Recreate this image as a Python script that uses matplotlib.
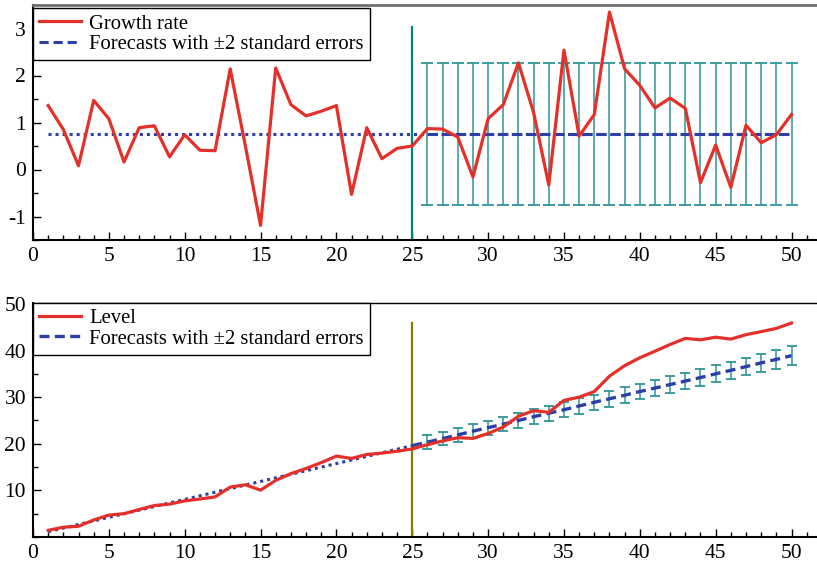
import matplotlib
matplotlib.use("Agg")
import matplotlib.pyplot as plt
from matplotlib.ticker import MultipleLocator

plt.rcParams['font.family'] = ['Liberation Serif', 'DejaVu Serif']
plt.rcParams['font.size'] = 15

# ---------------- data ----------------
t = list(range(1, 51))
growth = [1.36, 0.85, 0.08, 1.47, 1.08, 0.16, 0.89, 0.93, 0.27, 0.74,
          0.41, 0.40, 2.14, 0.50, -1.19, 2.16, 1.38, 1.14, 1.24, 1.36,
          -0.53, 0.89, 0.23, 0.45, 0.50, 0.87, 0.86, 0.69, -0.16, 1.08,
          1.38, 2.27, 1.21, -0.33, 2.54, 0.71, 1.17, 3.35, 2.14, 1.79,
          1.31, 1.52, 1.30, -0.28, 0.52, -0.38, 0.94, 0.57, 0.74, 1.17]
growth_mean_t = [1, 50]
growth_mean = [0.755, 0.755]
fc_t = list(range(26, 51))
growth_fc = [0.755] * 25
growth_se2 = [1.51] * 25

level = [1.43, 2.10, 2.30, 3.65, 4.70, 5.00, 5.90, 6.75, 7.05, 7.75,
         8.15, 8.60, 10.70, 11.20, 10.05, 12.15, 13.60, 14.70, 15.95, 17.35,
         16.85, 17.70, 18.00, 18.40, 18.90, 19.80, 20.60, 21.30, 21.15, 22.20,
         23.60, 25.90, 27.10, 26.75, 29.30, 30.00, 31.20, 34.50, 36.75, 38.45,
         39.85, 41.30, 42.60, 42.30, 42.85, 42.45, 43.40, 44.05, 44.75, 45.90]
trend_t = [1, 25]
trend = [1.15, 19.6]
level_fc_t = [25] + fc_t
level_fc = [19.6, 20.35, 21.1, 21.9, 22.7, 23.45, 24.2, 25.0, 25.8, 26.55,
            27.3, 28.1, 28.9, 29.65, 30.4, 31.2, 31.95, 32.7, 33.45, 34.2,
            35.0, 35.75, 36.55, 37.35, 38.1, 38.9]
level_se2 = [1.45, 1.46, 1.47, 1.49, 1.50, 1.52, 1.54, 1.56, 1.58, 1.60,
             1.62, 1.64, 1.66, 1.68, 1.70, 1.72, 1.75, 1.78, 1.80, 1.83,
             1.86, 1.89, 1.92, 1.96, 2.00]
split_t = 25

RED = '#e5302a'
BLUE = '#2d3fa6'
TEAL_ERR = '#2f9595'

fig = plt.figure(figsize=(8.17, 5.66), dpi=100)
W, H = 817, 566
ax1 = fig.add_axes([33 / W, (H - 240) / H, 1 - 33 / W, 235 / H])
ax2 = fig.add_axes([33 / W, (H - 537) / H, 1 - 33 / W, 234.5 / H])


def style(ax, ymajor, yminor):
    ax.set_xlim(0, 51.68)
    ax.xaxis.set_major_locator(MultipleLocator(5))
    ax.xaxis.set_minor_locator(MultipleLocator(1))
    ax.yaxis.set_major_locator(MultipleLocator(ymajor))
    ax.yaxis.set_minor_locator(MultipleLocator(yminor))
    ax.tick_params(which='both', direction='in', top=False, right=False,
                   width=1.0, color='black', labelsize=15.5)
    ax.tick_params(which='major', length=6, pad=5)
    ax.tick_params(which='minor', length=3.5)
    ax.spines['right'].set_visible(False)
    ax.spines['left'].set_linewidth(1.5)
    ax.spines['bottom'].set_linewidth(1.5)


LEG = dict(loc='upper left', borderaxespad=0, frameon=True, fancybox=False,
           edgecolor='black', framealpha=1, labelspacing=0.05, borderpad=0.3,
           handlelength=2.0, handletextpad=0.4, fontsize=14.9)

# ---------------- top panel ----------------
style(ax1, 1, 0.5)
ax1.set_ylim(-1.5, 3.5)
ax1.set_yticks([-1, 0, 1, 2, 3])
ax1.set_yticklabels(['-1', '0', '1', '2', '3'])
ax1.spines['top'].set_color('#707070')
ax1.spines['top'].set_linewidth(2.0)

ax1.errorbar(fc_t, growth_fc, yerr=growth_se2, fmt='none', ecolor=TEAL_ERR,
             elinewidth=1.1, capsize=4.3, capthick=1.3, zorder=1)
ax1.plot(growth_mean_t, growth_mean, color=BLUE, lw=2.2,
         linestyle=(0, (1, 1.3)), zorder=3)
l2, = ax1.plot(fc_t, growth_fc, color=BLUE, lw=2.2, linestyle=(0, (3, 1.6)),
               zorder=3)
l1, = ax1.plot(t, growth, color=RED, lw=2.3, zorder=4)
ax1.plot([split_t, split_t], [-1.5, 3.04], color='#00807f', lw=1.6, zorder=2)
lg1 = ax1.legend([l1, l2], ['Growth rate', 'Forecasts with \u00b12 standard errors'],
                 bbox_to_anchor=(0, 1 - 3 / 235), **LEG)
lg1.get_frame().set_linewidth(1.0)

# ---------------- bottom panel ----------------
style(ax2, 10, 5)
ax2.set_ylim(0, 50.3)
ax2.set_yticks([10, 20, 30, 40, 50])
ax2.spines['top'].set_linewidth(1.0)

ax2.errorbar(fc_t, level_fc[1:], yerr=level_se2, fmt='none', ecolor=TEAL_ERR,
             elinewidth=1.1, capsize=3.8, capthick=1.3, zorder=1)
ax2.plot(trend_t, trend, color=BLUE, lw=2.2, linestyle=(0, (1, 1.3)), zorder=3)
m2, = ax2.plot(level_fc_t, level_fc, color=BLUE, lw=2.4,
               linestyle=(0, (3, 1.6)), zorder=3)
m1, = ax2.plot(t, level, color=RED, lw=2.3, zorder=4)
ax2.plot([split_t, split_t], [0, 46], color='#808000', lw=1.6, zorder=2)
lg2 = ax2.legend([m1, m2], ['Level', 'Forecasts with \u00b12 standard errors'],
                 bbox_to_anchor=(0, 1), **LEG)
lg2.get_frame().set_linewidth(1.0)

fig.savefig('out.png', dpi=100)
